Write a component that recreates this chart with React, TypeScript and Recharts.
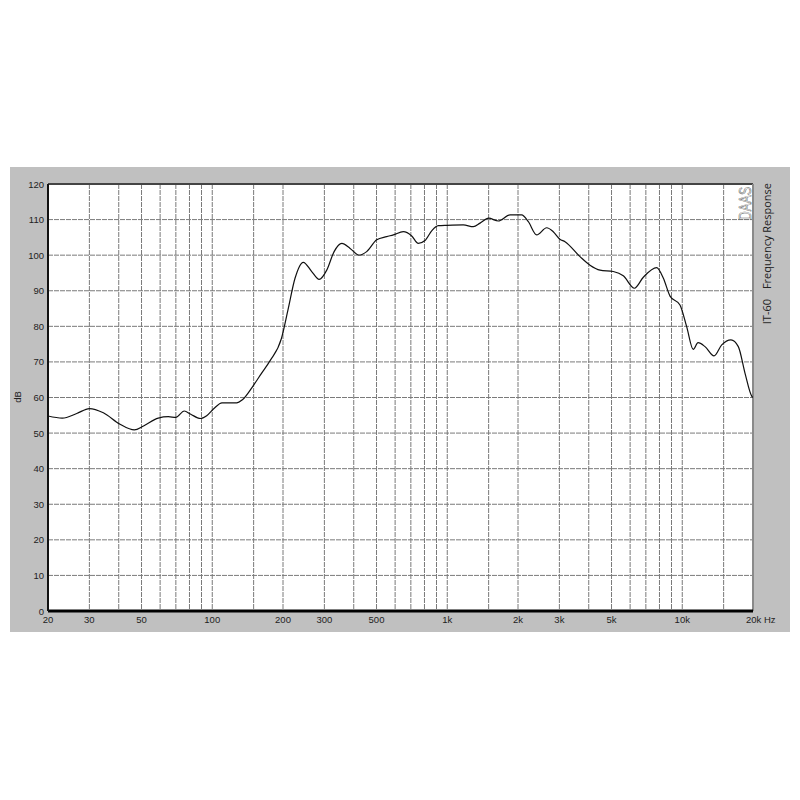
import React from "react";
import { LineChart, Line, XAxis, YAxis, CartesianGrid, ReferenceLine } from "recharts";

const freqs = [
  20, 23, 26.5, 30, 34.4, 40.5, 46.6, 51, 58.9, 65, 70, 76, 81, 89, 94.7, 102, 110, 127, 134, 150, 162, 176,
  197, 210, 225, 244, 265, 285, 307, 330, 356, 386, 422, 454, 501, 552, 590, 650, 706, 753, 804, 860, 916,
  1000, 1170, 1291, 1379, 1500, 1649, 1849, 2073, 2213, 2402, 2650, 2825, 3014, 3170, 3672, 4050, 4468, 5088,
  5611, 6256, 6829, 7782, 8311, 8870, 9779, 10440, 11140, 11670, 12500, 13650, 14720, 16120, 17320, 18500,
  19750, 20000,
];
const levels = [
  54.8, 54.2, 55.5, 56.9, 55.7, 52.5, 50.9, 52.0, 54.2, 54.6, 54.4, 56.2, 55.3, 54.1, 54.9, 57.0, 58.5, 58.5,
  59.3, 63.5, 66.8, 70.3, 76.6, 84.6, 93.5, 98.0, 95.4, 93.2, 95.8, 101.0, 103.3, 101.9, 100.0, 101.0, 104.3,
  105.2, 105.7, 106.6, 105.4, 103.3, 104.1, 106.9, 108.3, 108.4, 108.5, 108.0, 109.0, 110.4, 109.6, 111.3,
  111.3, 109.4, 105.7, 107.7, 106.6, 104.5, 103.8, 99.6, 97.2, 95.8, 95.4, 94.2, 90.7, 93.8, 96.5, 93.5, 88.5,
  86.0, 79.9, 73.5, 75.4, 74.3, 71.7, 74.8, 76.2, 74.3, 66.8, 60.4, 60.0,
];

const gridFreqs = [
  20, 30, 40, 50, 60, 70, 80, 90, 100, 150, 200, 300, 400, 500, 600, 700, 800, 900, 1000, 1500, 2000, 3000,
  4000, 5000, 6000, 7000, 8000, 9000, 10000, 15000, 20000,
];
const freqLabels: Record<number, string> = {
  20: "20", 30: "30", 50: "50", 100: "100", 200: "200", 300: "300", 500: "500", 1000: "1k", 2000: "2k",
  3000: "3k", 5000: "5k", 10000: "10k", 20000: "20k Hz",
};
const dbTicks = [0, 10, 20, 30, 40, 50, 60, 70, 80, 90, 100, 110, 120];

const data = freqs.map((f, i) => ({ f, db: levels[i] }));

const FONT = "'Liberation Sans', Arial, sans-serif";

const XTick = (props: any) => {
  const { x, y, payload } = props;
  const label = freqLabels[payload.value];
  if (!label) return null;
  const last = payload.value === 20000;
  return (
    <text
      x={last ? x - 7 : x}
      y={y + 12}
      textAnchor={last ? "start" : "middle"}
      fontSize={9.5}
      fontFamily={FONT}
      fill="#222"
    >
      {label}
    </text>
  );
};

const YTick = (props: any) => {
  const { x, y, payload } = props;
  return (
    <text x={x - 4} y={y + 3.5} textAnchor="end" fontSize={9.5} fontFamily={FONT} fill="#222">
      {payload.value}
    </text>
  );
};

export default function App() {
  return (
    <div style={{ position: "relative", width: 784, height: 784 }}>
      <div
        style={{
          position: "absolute",
          left: 2,
          top: 159,
          width: 780,
          height: 465,
          background: "#c0c0c0",
        }}
      >
        <LineChart
          width={780}
          height={465}
          data={data}
          margin={{ top: 17, right: 37, bottom: 0, left: 0 }}
        >
          <CartesianGrid fill="#ffffff" stroke="#7a7a7a" strokeDasharray="5 1" />
          <XAxis
            dataKey="f"
            type="number"
            scale="log"
            domain={[20, 20000]}
            ticks={gridFreqs}
            interval={0}
            allowDataOverflow
            height={21}
            tickSize={0}
            tickMargin={0}
            tickLine={false}
            axisLine={{ stroke: "#000", strokeWidth: 3 }}
            tick={<XTick />}
          />
          <YAxis
            type="number"
            domain={[0, 120]}
            ticks={dbTicks}
            interval={0}
            width={38}
            tickSize={0}
            tickMargin={0}
            tickLine={false}
            axisLine={{ stroke: "#111", strokeWidth: 2 }}
            tick={<YTick />}
          />
          <ReferenceLine y={120} stroke="#444" strokeWidth={2} />
          <ReferenceLine x={20000} stroke="#8a8a8a" strokeWidth={2} />
          <Line
            dataKey="db"
            type="monotone"
            stroke="#111"
            strokeWidth={1.2}
            dot={false}
            isAnimationActive={false}
          />
        </LineChart>
        <svg
          width={780}
          height={465}
          style={{ position: "absolute", left: 0, top: 0, pointerEvents: "none" }}
        >
          <text
            x={11}
            y={230}
            transform="rotate(-90 11 230)"
            textAnchor="middle"
            fontSize={9.5}
            fontFamily={FONT}
            fill="#222"
          >
            dB
          </text>
          <text
            x={760.5}
            y={16}
            transform="rotate(-90 760.5 16)"
            textAnchor="end"
            fontSize={11}
            fontFamily="'Open Sans', sans-serif"
            fill="#222"
          >
            Frequency Response
          </text>
          <text
            x={760.5}
            y={132}
            transform="rotate(-90 760.5 132)"
            textAnchor="end"
            fontSize={11}
            fontFamily="'Open Sans', sans-serif"
            fill="#222"
          >
            IT-60
          </text>
          <text
            x={741}
            y={53}
            transform="rotate(-90 741 53)"
            textAnchor="start"
            fontSize={16}
            fontFamily={FONT}
            fill="#fff"
            stroke="#555"
            strokeWidth={0.5}
            textLength={33}
            lengthAdjust="spacingAndGlyphs"
          >
            DAAS
          </text>
        </svg>
      </div>
    </div>
  );
}
